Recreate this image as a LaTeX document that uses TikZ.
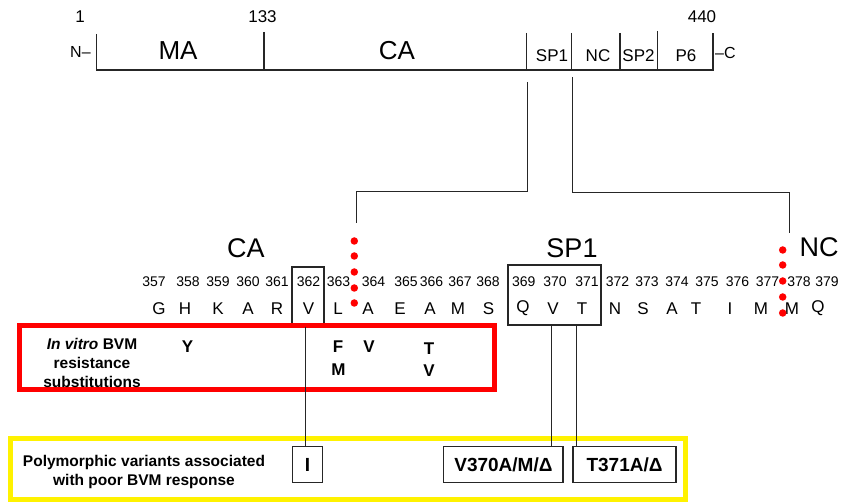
\documentclass[tikz,border=0pt]{standalone}
\usepackage{fontspec}
\setmainfont{Liberation Sans}
\begin{document}
\begin{tikzpicture}[x=1pt,y=-1pt,
  txt/.style={inner sep=0pt, font=\fontsize{#1}{#1}\selectfont},
  btxt/.style={inner sep=0pt, font=\bfseries\fontsize{#1}{#1}\selectfont},
  num/.style={txt=14},
  aa/.style={txt=17},
  sub/.style={btxt=17},
  rdot/.style={circle, fill=red, draw=none, inner sep=0pt, minimum size=7.5pt},
  barline/.style={line width=1.1pt, black!85},
  conn/.style={line width=1pt, black!85},
  seqbox/.style={draw=black!85, line width=1.2pt, inner sep=0pt},
  varbox/.style={draw=black!85, line width=1.2pt, inner sep=0pt, minimum height=35.6pt, btxt=19},
  redframe/.style={draw=red, line width=5pt, inner sep=0pt},
  yelframe/.style={draw=yellow, line width=5pt, inner sep=0pt}]
\useasboundingbox (0,0) rectangle (841,502);

% ---------- top bar ----------
\draw[barline] (96.5,34) -- (96.5,70) -- (713,70) -- (713,33);
\draw[barline] (264,32) -- (264,70);
\draw[barline] (526.7,33) -- (526.7,70);
\draw[barline] (571.7,33) -- (571.7,70);
\draw[barline] (620,33) -- (620,70);
\draw[barline] (657.7,31) -- (657.7,70);

\node[txt=17] (p1) at (80,17) {1};
\node[txt=17] (p133) at (262.5,17) {133};
\node[txt=17] (p440) at (702,17) {440};
\node[txt=16, anchor=west] (nterm) at (70,52) {N–};
\node[txt=16, anchor=west] (cterm) at (715,52.5) {–C};
\node[txt=26] (ma) at (178,51) {MA};
\node[txt=26] (catop) at (397,51) {CA};
\node[txt=17] (sp1top) at (552,56) {SP1};
\node[txt=17] (nctop) at (598,56) {NC};
\node[txt=17] (sp2top) at (638.5,56) {SP2};
\node[txt=17] (p6top) at (686,56) {P6};

% ---------- zoom connectors ----------
\coordinate (za) at (527.7,82);
\coordinate (zb) at (356.7,192);
\coordinate (zc) at (356.7,223);
\coordinate (zd) at (572.3,77);
\coordinate (ze) at (789,193);
\coordinate (zf) at (789,233);
\draw[conn] (za) |- (zb) -- (zc);
\draw[conn] (zd) |- (ze) -- (zf);

% ---------- sequence labels ----------
\node[txt=27] (caseq) at (246,248) {CA};
\node[txt=27] (sp1seq) at (572,248) {SP1};
\node[txt=27] (ncseq) at (819,247) {NC};

% ---------- residue numbers ----------
\foreach \n/\x in {357/154,358/188,359/218,360/248,361/277,362/308.5,363/338.5,364/373.5,
  365/406,366/431.5,367/460,368/488,369/523.7,370/555,371/587,372/617.5,373/647,
  374/677,375/707,376/737.5,377/767.5,378/799,379/827}
  \node[num] (n\n) at (\x,282) {\n};

% ---------- residues ----------
\foreach \i/\a/\x in {357/G/159,358/H/185,359/K/218,360/A/248,361/R/277,362/V/308.5,
  363/L/338,364/A/368,365/E/400,366/A/430,367/M/458,368/S/488.5,369/Q/523,370/V/553,
  371/T/582,372/N/615,373/S/643,374/A/672,375/T/696,376/I/730,377/M/761,378/M/792,379/Q/818}
  \node[aa] (r\i) at (\x,308.5) {\a};

% ---------- boxes around residues ----------
\node[seqbox, minimum width=32pt, minimum height=59pt] (b362) at (308,296.5) {};
\node[seqbox, minimum width=93pt, minimum height=60pt] (bsp1) at (554.5,295) {};

% ---------- cleavage sites (red dots) ----------
\foreach \k/\y in {1/241,2/256,3/272,4/288,5/303}
  \node[rdot] (dl\k) at (354.3,\y) {};
\foreach \k/\y in {1/250,2/265,3/281,4/297,5/313}
  \node[rdot] (dr\k) at (782.7,\y) {};

% ---------- in vitro resistance box ----------
\node[redframe, minimum width=475pt, minimum height=64pt] (resbox) at (257,357.5) {};
\node[btxt=15.5, align=center, font=\bfseries\fontsize{15.5}{19}\selectfont] (reslbl) at (92,363)
  {\textit{In vitro} BVM\\resistance\\substitutions};
\node[sub] (sY) at (187.5,347) {Y};
\node[sub] (sF) at (338,346.5) {F};
\node[sub] (sM) at (338.5,369.5) {M};
\node[sub] (sV) at (369,346.5) {V};
\node[sub] (sT) at (429,348.5) {T};
\node[sub] (sV2) at (429,371) {V};

% ---------- polymorphism box ----------
\node[yelframe, minimum width=675pt, minimum height=61pt] (polybox) at (348,469) {};
\node[align=center, inner sep=0pt, font=\bfseries\fontsize{15.5}{19}\selectfont] (polylbl) at (144,472)
  {Polymorphic variants associated\\with poor BVM response};
\node[varbox, minimum width=29.7pt] (vI) at (307.5,464.5) {I};
\node[varbox, minimum width=119.3pt] (v370) at (503.4,464.5) {V370A/M/Δ};
\node[varbox, minimum width=103pt] (v371) at (624.5,464.5) {T371A/Δ};

% ---------- links ----------
\coordinate (x362) at (305,0);
\coordinate (x370) at (551,0);
\coordinate (x371) at (576.7,0);
\draw[conn] (b362.south -| x362) -- (vI.north -| x362);
\draw[conn] (bsp1.south -| x370) -- (v370.north -| x370);
\draw[conn] (bsp1.south -| x371) -- (v371.north -| x371);
\end{tikzpicture}
\end{document}
